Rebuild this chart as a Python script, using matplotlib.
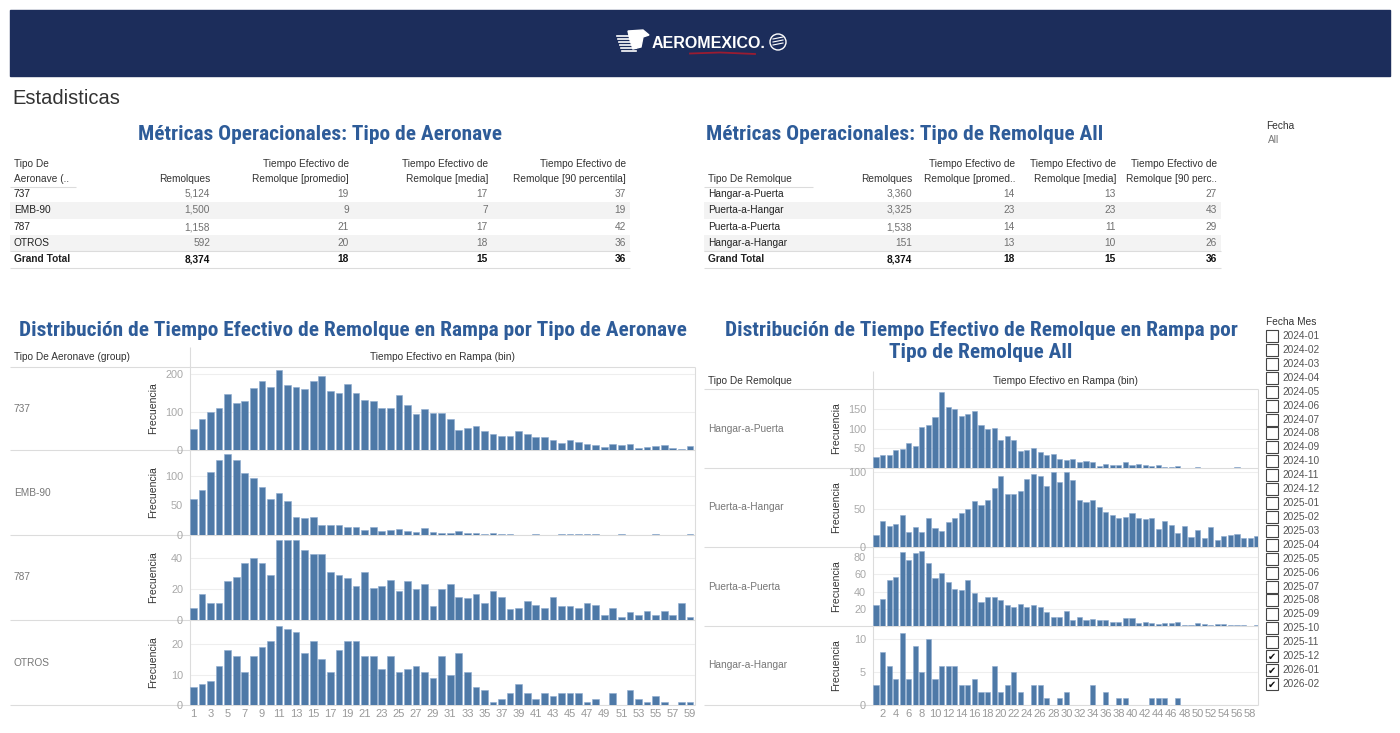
import matplotlib
matplotlib.use("Agg")
import matplotlib.pyplot as plt
from matplotlib import font_manager
from matplotlib.patches import Rectangle, Circle, Polygon
import numpy as np

# ---------------- datos ----------------
tipos_aeronave = ['737', 'EMB-90', '787', 'OTROS']
remolques_aeronave = [5124, 1500, 1158, 592]
promedio_aeronave = [19, 9, 21, 20]
media_aeronave = [17, 7, 17, 18]
p90_aeronave = [37, 19, 42, 36]
total_aeronave = [8374, 18, 15, 36]

tipos_remolque = ['Hangar-a-Puerta', 'Puerta-a-Hangar', 'Puerta-a-Puerta', 'Hangar-a-Hangar']
remolques_tipo = [3360, 3325, 1538, 151]
promedio_tipo = [14, 23, 14, 13]
media_tipo = [13, 23, 11, 10]
p90_tipo = [27, 43, 29, 26]
total_tipo = [8374, 18, 15, 36]

# frecuencia por bin (minutos 1..59)
frec_737 = [55, 81, 101, 111, 146, 124, 128, 164, 181, 166,
            210, 171, 165, 161, 181, 195, 155, 149, 173, 151,
            131, 129, 111, 111, 144, 119, 95, 107, 98, 98,
            81, 53, 58, 64, 49, 41, 36, 38, 49, 43,
            34, 34, 25, 19, 25, 21, 17, 14, 8, 17,
            12, 17, 4, 8, 10, 12, 6, 2, 10]
frec_emb90 = [61, 76, 106, 126, 136, 126, 104, 96, 80, 61,
              71, 58, 31, 28, 30, 16, 16, 16, 13, 13,
              8, 13, 7, 8, 10, 6, 5, 11, 5, 3,
              4, 6, 4, 4, 1, 4, 1, 1, 0, 0,
              1, 0, 0, 1, 1, 1, 1, 1, 0, 0,
              1, 0, 0, 0, 1, 0, 0, 0, 1]
frec_787 = [8, 17, 11, 11, 25, 28, 37, 40, 37, 29,
            52, 52, 52, 45, 43, 43, 31, 29, 27, 22,
            31, 21, 22, 26, 19, 25, 20, 23, 9, 20,
            23, 15, 14, 17, 11, 19, 15, 7, 8, 12,
            10, 8, 15, 9, 9, 8, 11, 10, 3, 8,
            2, 5, 3, 6, 3, 6, 3, 11, 2]
frec_otros = [6, 7, 8, 13, 18, 16, 11, 16, 19, 21,
              26, 25, 24, 17, 21, 15, 11, 18, 21, 21,
              16, 16, 12, 16, 11, 12, 13, 11, 9, 16,
              10, 17, 11, 6, 5, 1, 2, 4, 7, 4,
              2, 4, 3, 4, 4, 4, 1, 2, 0, 4,
              0, 5, 2, 1, 3, 1, 0, 1, 1]

frec_hp = [29, 34, 34, 46, 48, 65, 57, 105, 111, 130,
           194, 155, 151, 132, 139, 147, 111, 99, 101, 72,
           82, 72, 44, 47, 50, 40, 34, 36, 22, 21,
           23, 16, 18, 16, 6, 10, 8, 8, 16, 8,
           10, 8, 6, 8, 3, 3, 5, 1, 0, 3,
           1, 1, 1, 1, 1, 3, 0, 1, 0]
frec_ph = [16, 35, 28, 30, 43, 20, 26, 20, 39, 25,
           21, 33, 39, 45, 50, 61, 56, 63, 79, 94,
           70, 70, 75, 91, 97, 94, 81, 100, 86, 100,
           89, 63, 60, 63, 53, 46, 43, 38, 40, 45,
           38, 37, 38, 24, 35, 29, 18, 28, 13, 23,
           12, 27, 9, 14, 16, 17, 12, 12, 15]
frec_pp = [24, 32, 54, 57, 86, 77, 85, 87, 73, 56,
           62, 51, 43, 42, 53, 39, 28, 34, 34, 30,
           24, 22, 26, 22, 25, 22, 16, 11, 11, 17,
           7, 10, 7, 8, 7, 7, 5, 5, 9, 9,
           3, 5, 3, 2, 4, 3, 5, 1, 1, 4,
           2, 1, 2, 2, 1, 1, 1, 0, 1]
frec_hh = [3, 8, 6, 4, 11, 4, 9, 5, 10, 4,
           6, 6, 6, 3, 3, 4, 2, 2, 6, 2,
           3, 5, 2, 0, 3, 3, 1, 0, 1, 2,
           0, 0, 0, 3, 0, 2, 0, 1, 1, 0,
           0, 0, 1, 1, 1, 0, 1, 0, 0, 0,
           0, 0, 0, 0, 0, 0, 0, 0, 0]

meses = ['2024-01', '2024-02', '2024-03', '2024-04', '2024-05', '2024-06',
         '2024-07', '2024-08', '2024-09', '2024-10', '2024-11', '2024-12',
         '2025-01', '2025-02', '2025-03', '2025-04', '2025-05', '2025-06',
         '2025-07', '2025-08', '2025-09', '2025-10', '2025-11', '2025-12',
         '2026-01', '2026-02']
meses_marcados = ['2025-12', '2026-01', '2026-02']

# ---------------- fuentes ----------------
nombres = {f.name for f in font_manager.fontManager.ttflist}
NARROW = 'Liberation Sans'
for cand in ['Liberation Sans Narrow', 'DejaVu Sans Condensed', 'Roboto Condensed']:
    if cand in nombres:
        NARROW = cand
        break
BASE = 'Liberation Sans' if 'Liberation Sans' in nombres else 'DejaVu Sans'
plt.rcParams['font.family'] = [BASE, 'DejaVu Sans']

AZUL_TIT = '#2e5c99'
AZUL_BAR = '#4e79a7'
GRIS_LINEA = '#dcdcdc'
TAM_TIT = 15.4
W, H = 1400, 733

fig = plt.figure(figsize=(14, 7.33), dpi=100)
bg = fig.add_axes([0, 0, 1, 1])
bg.set_xlim(0, W)
bg.set_ylim(H, 0)
bg.axis('off')


def txt(x, y, s, **kw):
    kw.setdefault('va', 'center')
    kw.setdefault('fontsize', 7.3)
    kw.setdefault('color', '#333333')
    bg.text(x, y, s, **kw)


def hline(y, x0, x1, color=GRIS_LINEA, lw=0.8):
    bg.plot([x0, x1], [y, y], color=color, lw=lw, solid_capstyle='butt')


def vline(x, y0, y1, color=GRIS_LINEA, lw=0.8):
    bg.plot([x, x], [y0, y1], color=color, lw=lw, solid_capstyle='butt')


# ---------------- cabecera ----------------
bg.add_patch(Rectangle((10, 10), 1380, 66, color='#1c2d5b', zorder=1))
# logo simplificado
for i, yy in enumerate([36, 39, 42, 45, 48, 51]):
    bg.plot([617 + i, 636], [yy, yy], color='white', lw=1.2, zorder=2)
bg.add_patch(Polygon([[628, 31], [643, 30], [649, 35], [643, 37], [641, 47], [633, 49], [630, 40]],
                     closed=True, color='white', zorder=2))
txt(652, 43, 'AEROMEXICO.', color='white', fontsize=11.5, fontweight='bold', zorder=3)
bg.plot([690, 720, 755], [53.5, 52.5, 54], color='#9b1c31', lw=1.3, zorder=2)
bg.add_patch(Circle((778, 42), 8, fill=False, ec='white', lw=1.0, zorder=2))
for yy in [39, 42, 45]:
    bg.plot([773, 783], [yy, yy - 2], color='white', lw=0.8, zorder=2)

txt(12, 98, 'Estadisticas', fontsize=14.5, color='#333333')

# ---------------- tablas ----------------
def tabla(x_label, x_cols, x0, x1, header_label, headers, filas_label, columnas, total, sub_x1, titulo, titulo_x, titulo_ha):
    txt(titulo_x, 134, titulo, fontsize=TAM_TIT, color=AZUL_TIT, fontweight='bold',
        family=[NARROW, 'DejaVu Sans'], ha=titulo_ha)
    if '\n' in header_label:
        l1, l2 = header_label.split('\n')
        txt(x_label, 164, l1)
        txt(x_label, 179, l2)
    else:
        txt(x_label, 179, header_label)
    for xc, h in zip(x_cols, headers):
        if '\n' in h:
            l1, l2 = h.split('\n')
            txt(xc, 164, l1, ha='right')
            txt(xc, 179, l2, ha='right')
        else:
            txt(xc, 179, h, ha='right')
    hline(186.5, x0, sub_x1)
    filas_y = [194, 210, 227, 243]
    for i, (lab, yy) in enumerate(zip(filas_label, filas_y)):
        if i % 2 == 1:
            bg.add_patch(Rectangle((x0, yy - 8), x1 - x0, 16.5, color='#f3f3f3', zorder=0.5, lw=0))
        txt(x_label, yy, lab, color='#222222')
        for xc, col in zip(x_cols, columnas):
            txt(xc, yy, f"{col[i]:,}", ha='right', color='#707070')
    hline(251, x0, x1)
    txt(x_label, 259.5, 'Grand Total', color='#222222', fontweight='bold')
    for xc, v in zip(x_cols, total):
        txt(xc, 259.5, f"{v:,}", ha='right', color='#111111', fontweight='bold')
    hline(268, x0, x1)


tabla(14, [210, 349, 488, 626], 10, 630, 'Tipo De\nAeronave (..',
      ['Remolques', 'Tiempo Efectivo de\nRemolque [promedio]',
       'Tiempo Efectivo de\nRemolque [media]', 'Tiempo Efectivo de\nRemolque [90 percentila]'],
      tipos_aeronave, [remolques_aeronave, promedio_aeronave, media_aeronave, p90_aeronave],
      total_aeronave, 76, 'Métricas Operacionales: Tipo de Aeronave', 320, 'center')

tabla(708, [912, 1015, 1116, 1217], 704, 1221, 'Tipo De Remolque',
      ['Remolques', 'Tiempo Efectivo de\nRemolque [promed..',
       'Tiempo Efectivo de\nRemolque [media]', 'Tiempo Efectivo de\nRemolque [90 perc..'],
      tipos_remolque, [remolques_tipo, promedio_tipo, media_tipo, p90_tipo],
      total_tipo, 813, 'Métricas Operacionales: Tipo de Remolque All', 706, 'left')

txt(1266, 126, 'Fecha', fontsize=7.3, color='#333333')
txt(1268, 140, 'All', fontsize=7.3, color='#777777')

# ---------------- histogramas ----------------
def panel(x0, y0, x1, y1, valores, ytop, yticks, xlim, xticks, lab_x):
    ax = fig.add_axes([x0 / W, 1 - y1 / H, (x1 - x0) / W, (y1 - y0) / H])
    ax.set_facecolor('none')
    bins = np.arange(1, len(valores) + 1)
    ax.bar(bins, valores, width=0.78, color=AZUL_BAR, edgecolor='#8eabd0', linewidth=0.4, zorder=3)
    ax.set_xlim(*xlim)
    ax.set_ylim(0, ytop)
    ax.set_yticks(yticks)
    ax.set_yticklabels([str(t) for t in yticks])
    ax.tick_params(axis='y', length=0, pad=5, labelsize=7.8, labelcolor='#a8a8a8')
    ax.grid(axis='y', color='#eeeeee', lw=0.8, zorder=0)
    ax.set_axisbelow(True)
    for s in ['top', 'bottom', 'right']:
        ax.spines[s].set_visible(False)
    ax.spines['left'].set_color(GRIS_LINEA)
    ax.spines['left'].set_linewidth(0.8)
    ax.set_ylabel('Frecuencia', fontsize=7.5, color='#333333', va='center')
    ax.yaxis.set_label_coords(lab_x, 0.5)
    if xticks is not None:
        ax.set_xticks(xticks)
        ax.set_xticklabels([str(t) for t in xticks])
        ax.tick_params(axis='x', length=0, pad=3, labelsize=8, labelcolor='#9a9a9a')
    else:
        ax.set_xticks([])
    return ax


# izquierda: tipo de aeronave
txt(353, 330, 'Distribución de Tiempo Efectivo de Remolque en Rampa por Tipo de Aeronave',
    fontsize=TAM_TIT, color=AZUL_TIT, fontweight='bold', family=[NARROW, 'DejaVu Sans'], ha='center')
txt(14, 357, 'Tipo De Aeronave (group)')
txt(442, 357, 'Tiempo Efectivo en Rampa (bin)', ha='center')
vline(190, 347, 367)
filas_izq = [(367, 450), (450, 535), (535, 620), (620, 705)]
series_izq = [frec_737, frec_emb90, frec_787, frec_otros]
ytops_izq = [218, 143, 55, 28]
yticks_izq = [[0, 100, 200], [0, 50, 100], [0, 20, 40], [0, 10, 20]]
for k, ((ya, yb), serie) in enumerate(zip(filas_izq, series_izq)):
    hline(ya, 10, 695)
    txt(14, (ya + yb) / 2, tipos_aeronave[k], color='#777777')
    panel(190, ya, 695, yb, serie, ytops_izq[k], yticks_izq[k], (0.6, 59.6),
          list(range(1, 60, 2)) if k == 3 else None, -0.073)
hline(705, 10, 695)
vline(695, 367, 705)

# derecha: tipo de remolque
txt(981, 330, 'Distribución de Tiempo Efectivo de Remolque en Rampa por',
    fontsize=TAM_TIT, color=AZUL_TIT, fontweight='bold', family=[NARROW, 'DejaVu Sans'], ha='center')
txt(981, 352, 'Tipo de Remolque All',
    fontsize=TAM_TIT, color=AZUL_TIT, fontweight='bold', family=[NARROW, 'DejaVu Sans'], ha='center')
txt(708, 381, 'Tipo De Remolque')
txt(1065, 381, 'Tiempo Efectivo en Rampa (bin)', ha='center')
vline(873, 371, 389)
filas_der = [(389, 468), (468, 547), (547, 626), (626, 705)]
series_der = [frec_hp, frec_ph, frec_pp, frec_hh]
ytops_der = [202, 105, 92, 12]
yticks_der = [[50, 100, 150], [0, 50, 100], [20, 40, 60, 80], [0, 5, 10]]
for k, ((ya, yb), serie) in enumerate(zip(filas_der, series_der)):
    hline(ya, 704, 1258)
    txt(708, (ya + yb) / 2, tipos_remolque[k], color='#777777')
    panel(873, ya, 1258, yb, serie, ytops_der[k], yticks_der[k], (0.55, 59.2),
          list(range(2, 59, 2)) if k == 3 else None, -0.096)
hline(705, 704, 1258)
vline(1258, 389, 705)

# ---------------- filtro Fecha Mes ----------------
txt(1266, 322, 'Fecha Mes', color='#333333')
for i, m in enumerate(meses):
    yy = 336 + i * 13.92
    bg.add_patch(Rectangle((1266, yy - 6), 12, 12, fill=False, ec='#444444', lw=0.8))
    if m in meses_marcados:
        txt(1272, yy + 0.5, '✔', ha='center', fontsize=7, color='#111111', family='DejaVu Sans')
    txt(1282, yy, m, color='#555555')

fig.savefig('out.png', dpi=100, facecolor='white')
